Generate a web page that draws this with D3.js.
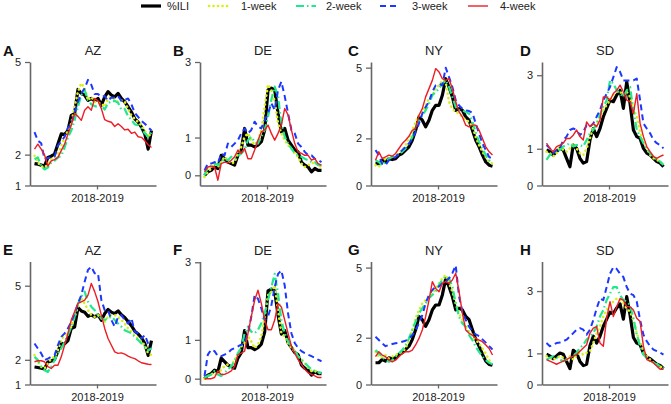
<!DOCTYPE html>
<html><head><meta charset="utf-8">
<script src="https://cdn.jsdelivr.net/npm/d3@7"></script>
<style>body{margin:0;background:#fff}svg{font-family:"Liberation Sans",Arial,sans-serif}</style>
</head><body><svg id="c" width="671" height="404"></svg>
<script>
const seriesNames = ["%ILI","1-week","2-week","3-week","4-week"];
const seasonLabel = "2018-2019";
const seasonTickWeek = 18.7;
const weekIndex = d3.range(36);
const panelLetters = ["A","B","C","D","E","F","G","H"];
const panelStates = ["AZ","DE","NY","SD","AZ","DE","NY","SD"];
const yTickValues = [[1,2,5],[0,1,3],[0,2,5],[0,1,3],[1,2,5],[0,1,3],[0,2,5],[0,1,3]];
const yDomains = [[1,5],[-0.27,3],[0,5.24],[0,3.36],[1,5.98],[-0.15,3.02],[0,5.26],[0,3.95]];

// observed %ILI
const ili_AZ = [1.71,1.69,1.66,1.63,1.91,1.95,2.02,2.34,2.67,2.65,2.78,3.27,3.33,4.11,3.98,3.93,3.76,3.82,3.74,3.82,3.60,3.87,4.04,3.93,3.87,3.98,3.82,3.71,3.55,3.38,3.16,3.05,2.89,2.67,2.18,2.78];
const ili_DE = [0,0.09,0.13,0.22,0.18,0.53,0.44,0.35,0.31,0.27,0.53,0.67,1.24,0.80,0.80,0.75,0.80,0.89,1.20,2.26,2.31,2.26,1.64,1.15,1.24,0.93,0.80,0.67,0.62,0.35,0.27,0.22,0.09,0.18,0.13,0.13];
const ili_NY = [0.93,0.93,1.07,1.00,1.14,1.10,1.14,1.29,1.36,1.50,1.64,1.92,2.34,2.91,2.77,2.49,2.77,3.19,3.40,3.40,3.83,4.53,4.18,3.76,3.19,3.26,3.19,2.91,2.77,2.34,1.92,1.64,1.29,1.00,0.86,0.82];
const ili_SD = [0.97,0.92,0.83,0.92,1.01,0.97,0.74,0.51,1.10,1.01,0.74,0.61,0.65,1.24,1.55,1.33,1.55,1.87,2.10,2.32,2.28,2.46,2.59,2.10,2.82,2.23,1.51,1.33,1.28,1.01,0.88,0.83,0.74,0.65,0.61,0.51];

// top row forecasts (A-D)
const A_w1 = [1.96,1.74,1.63,1.58,1.69,1.85,1.93,2.02,2.29,2.56,2.78,3.00,3.55,4.04,4.31,4.15,3.76,3.87,3.71,3.68,3.66,3.55,3.82,3.87,3.79,3.71,3.76,3.71,3.49,3.27,3.16,3.05,2.95,2.78,2.56,2.73];
const A_w2 = [1.85,1.91,1.63,1.52,1.58,1.74,1.80,1.91,1.96,2.23,2.56,2.78,3.11,3.55,3.93,4.09,3.76,3.63,3.57,3.55,3.60,3.46,3.66,3.73,3.74,3.68,3.46,3.48,3.24,3.13,2.98,2.95,2.84,2.69,2.58,2.73];
const A_w3 = [2.73,2.45,2.37,1.85,1.89,1.91,1.93,2.29,2.43,2.58,2.87,2.98,3.38,3.71,3.98,4.15,4.42,4.26,3.96,3.96,3.87,3.90,3.74,3.85,3.84,3.90,3.74,3.77,3.82,3.63,3.35,3.22,3.09,3.00,2.89,2.78];
const A_w4 = [2.18,2.34,2.18,1.99,1.63,1.80,1.84,1.91,2.13,2.34,2.67,2.95,3.33,3.24,3.11,3.44,3.55,3.44,3.82,3.74,3.49,3.13,3.08,3.05,2.91,3.00,2.91,2.80,2.82,2.69,2.73,2.58,2.56,2.45,2.32,2.23];

const B_w1 = [-0.04,0.09,0.18,0.31,0.22,0.35,0.49,0.40,0.31,0.35,0.58,0.75,1.02,1.11,0.93,0.80,0.89,1.20,1.82,2.40,2.26,1.95,1.38,1.11,0.93,0.80,0.71,0.58,0.49,0.31,0.22,0.27,0.31,0.35,0.27,0.22];
const B_w2 = [0,0.22,0.24,0.31,0.27,0.35,0.44,0.40,0.49,0.44,0.51,0.58,0.67,0.93,1.02,0.89,0.84,1.02,1.20,1.55,2.00,2.35,2.09,1.38,1.02,0.84,0.71,0.58,0.53,0.49,0.44,0.40,0.35,0.35,0.27,0.27];
const B_w3 = [0.13,0.31,0.31,0.35,0.31,0.58,0.53,0.84,0.75,0.84,0.93,1.11,1.24,1.11,1.20,1.42,1.29,1.24,1.46,1.64,1.91,1.73,2.26,2.48,2.09,1.64,1.20,1.11,0.84,0.75,0.62,0.53,0.53,0.44,0.40,0.35];
const B_w4 = [0.09,0.22,0.24,0.22,-0.13,0.31,0.35,0.33,0.40,0.49,0.67,0.58,0.71,0.44,0.44,0.67,0.93,1.15,1.20,1.33,1.11,0.93,1.11,1.33,1.77,1.60,1.20,0.84,0.62,0.58,0.53,0.53,0.40,0.44,0.31,0.27];

const C_w1 = [0.86,0.79,1.00,1.14,1.14,1.21,1.29,1.36,1.50,1.71,1.99,2.34,2.70,2.98,3.12,3.40,3.69,3.83,4.11,4.25,4.46,4.39,3.55,3.26,3.12,3.05,2.91,2.77,2.70,2.49,2.06,1.71,1.43,1.21,1.00,0.93];
const C_w2 = [1.07,1.00,0.86,1.00,1.14,1.21,1.24,1.33,1.43,1.57,1.78,2.06,2.49,2.77,2.98,3.19,3.47,3.83,3.97,4.11,4.32,4.46,4.18,3.76,3.33,3.19,3.19,3.12,3.05,2.70,2.27,1.85,1.57,1.29,1.07,1.00];
const C_w3 = [1.50,1.29,0.93,0.86,1.07,1.14,1.21,1.36,1.50,1.64,1.78,1.99,2.27,2.63,3.05,3.33,3.55,3.97,4.25,4.32,4.25,5.00,4.60,4.18,3.62,3.40,3.26,3.19,3.16,3.08,2.63,2.20,1.78,1.50,1.21,1.14];
const C_w4 = [1.07,1.43,1.14,1.21,1.29,1.24,1.36,1.57,1.78,1.92,2.09,2.34,2.42,2.98,3.26,3.76,4.11,4.46,4.96,4.82,4.53,4.46,4.53,4.11,3.55,3.12,2.91,2.56,2.49,2.56,2.56,2.34,1.99,1.64,1.43,1.29];

const D_w1 = [0.92,0.88,0.79,0.88,1.10,0.97,0.92,1.01,1.15,1.01,0.88,0.83,1.01,1.28,1.60,1.69,1.87,2.05,2.19,2.32,2.46,2.55,2.55,2.46,2.55,2.41,2.10,1.87,1.46,1.19,1.01,0.83,0.74,0.70,0.65,0.56];
const D_w2 = [0.70,0.83,0.88,0.92,0.97,1.06,1.10,1.15,1.06,1.10,1.10,1.06,1.24,1.42,1.51,1.69,1.92,2.14,2.32,2.86,2.77,2.59,2.50,2.41,2.59,2.68,2.05,1.51,1.33,1.15,1.01,0.88,0.79,0.70,0.65,0.56];
const D_w3 = [1.10,1.01,0.88,0.97,1.01,1.24,1.33,1.51,1.55,1.51,1.37,1.46,1.64,1.60,1.69,1.87,2.05,2.32,2.50,2.68,2.95,3.22,3.09,2.86,2.86,2.86,2.86,2.91,2.32,1.69,1.55,1.42,1.24,1.15,1.10,1.01];
const D_w4 = [1.15,1.01,0.92,1.06,1.10,1.15,1.28,1.28,1.37,1.51,1.33,1.24,1.73,1.60,1.69,1.60,1.78,2.41,2.41,2.32,2.50,2.59,2.73,2.55,2.32,2.28,1.96,2.50,1.69,1.33,1.06,0.92,0.79,0.74,0.79,0.83];

// bottom row forecasts (E-H)
const E_w1 = [2.19,1.92,1.72,1.65,1.85,2.05,2.12,2.39,2.80,3.00,3.07,3.34,3.74,4.15,4.49,4.28,4.01,3.81,3.74,3.81,3.68,3.54,3.74,3.81,3.81,3.74,3.61,3.47,3.27,3.14,3.00,2.86,2.73,2.59,2.26,2.19];
const E_w2 = [2.12,1.99,1.72,1.58,1.51,1.72,1.99,2.26,2.46,2.73,3.00,3.34,3.74,4.28,4.55,4.76,4.35,4.15,4.01,3.81,3.68,3.61,3.68,3.74,3.61,3.47,3.34,3.20,3.14,3.07,2.93,2.80,2.66,2.53,2.39,2.46];
const E_w3 = [2.66,2.46,2.26,1.99,2.05,2.12,2.19,2.59,2.93,3.07,3.27,3.54,3.88,4.28,4.62,5.16,5.64,5.77,5.50,5.50,4.42,4.01,4.01,3.61,3.34,3.74,3.81,3.61,3.47,3.68,3.14,3.07,2.86,3.00,2.66,2.53];
const E_w4 = [1.92,1.96,1.96,1.92,1.72,1.65,1.78,1.78,2.12,2.59,3.07,3.61,3.95,4.28,4.35,4.42,4.62,5.09,4.76,4.35,3.81,3.27,2.86,2.59,2.32,2.26,2.28,2.23,2.15,2.09,2.05,1.96,1.88,1.85,1.82,1.81];

const F_w1 = [0,0.07,0.11,0.15,0.07,0.24,0.32,0.37,0.32,0.49,0.62,0.83,0.92,1.09,0.96,0.79,0.88,1.09,1.60,2.15,2.23,2.40,1.77,1.17,1.09,0.92,0.79,0.71,0.58,0.49,0.41,0.28,0.20,0.20,0.15,0.14];
const F_w2 = [0.03,0.07,0.11,0.20,0.11,0.07,0.15,0.24,0.32,0.45,0.66,0.79,1.17,1.34,1.21,1.17,1.26,1.43,1.68,2.02,2.36,2.70,2.19,1.51,1.17,0.96,0.83,0.71,0.58,0.49,0.41,0.32,0.24,0.20,0.17,0.15];
const F_w3 = [0.07,0.62,0.75,0.71,0.58,0.58,0.62,0.66,0.75,0.79,0.83,0.88,0.92,1.17,1.60,2.15,2.06,1.81,1.51,1.60,1.89,2.36,2.70,2.79,2.40,1.68,1.17,0.92,0.79,0.71,0.66,0.62,0.58,0.54,0.49,0.45];
const F_w4 = [0,0,0,0.03,0.20,0.11,0.11,0.15,0.20,0.32,0.62,0.66,0.71,1.17,1.60,2.02,2.28,1.94,1.51,1.26,1.26,1.51,1.94,1.85,1.51,1.17,0.83,0.66,0.49,0.37,0.24,0.15,0.11,0.07,0.03,0.03];

const G_w1 = [1.40,1.19,1.16,1.26,1.11,1.19,1.26,1.33,1.40,1.54,1.90,2.33,2.83,3.19,3.47,3.61,3.76,3.90,4.11,4.33,4.54,4.69,4.33,3.97,3.47,3.04,2.76,2.47,2.26,2.11,1.90,1.76,1.54,1.33,1.04,0.90];
const G_w2 = [1.47,1.33,1.19,1.04,0.97,1.04,1.19,1.33,1.47,1.69,1.97,2.33,2.69,3.04,3.26,3.47,3.69,3.83,3.97,4.26,4.47,4.61,4.54,4.19,3.47,2.90,2.61,2.47,2.11,1.90,1.61,1.40,1.19,1.04,0.93,0.87];
const G_w3 = [2.04,1.90,1.76,1.64,1.69,1.73,1.76,1.79,1.83,1.87,1.97,2.11,2.33,2.61,2.97,3.47,3.83,4.04,4.19,4.19,4.33,4.40,4.54,4.76,5.09,3.76,3.11,2.76,2.47,2.26,2.14,2.07,1.93,1.79,1.64,1.50];
const G_w4 = [1.19,1.40,1.26,1.19,1.04,0.97,1.04,1.19,1.33,1.40,1.40,1.47,1.69,1.97,2.33,2.90,3.61,4.40,4.11,3.97,4.33,4.40,4.33,4.47,4.76,3.97,3.04,2.33,2.19,2.11,1.97,1.90,1.83,1.69,1.54,1.26];

const H_w1 = [0.91,0.86,0.80,0.86,0.91,0.86,0.80,0.91,0.80,0.96,1.02,0.96,1.02,1.07,1.33,1.65,1.86,2.18,2.39,2.55,2.66,2.76,2.71,2.60,2.44,2.34,2.07,1.65,1.33,1.07,0.91,0.80,0.70,0.65,0.59,0.49];
const H_w2 = [0.80,0.86,0.91,0.86,0.80,0.75,0.80,0.86,0.91,1.02,1.17,1.28,1.44,1.54,1.65,1.86,2.18,2.39,2.71,2.92,3.13,3.13,2.87,2.71,2.66,2.55,2.13,1.60,1.23,0.96,0.86,0.75,0.70,0.65,0.59,0.51];
const H_w3 = [1.33,1.23,1.28,1.33,1.35,1.39,1.44,1.54,1.65,1.76,1.81,1.76,1.60,1.76,2.07,2.44,2.76,2.71,3.13,3.56,3.77,3.71,3.56,3.45,3.13,2.92,2.87,2.66,2.07,1.60,1.39,1.23,1.12,1.07,1.02,0.96];
const H_w4 = [0.80,0.75,0.70,0.65,0.70,0.75,0.80,0.86,0.91,0.96,1.07,1.17,1.28,1.65,1.81,1.86,1.33,1.23,2.13,2.66,2.18,2.50,2.76,2.71,2.50,2.50,2.39,2.13,2.02,1.23,0.80,0.75,0.70,0.59,0.49,0.49];

const panelSeries = [
  [ili_AZ, A_w1, A_w2, A_w3, A_w4],
  [ili_DE, B_w1, B_w2, B_w3, B_w4],
  [ili_NY, C_w1, C_w2, C_w3, C_w4],
  [ili_SD, D_w1, D_w2, D_w3, D_w4],
  [ili_AZ, E_w1, E_w2, E_w3, E_w4],
  [ili_DE, F_w1, F_w2, F_w3, F_w4],
  [ili_NY, G_w1, G_w2, G_w3, G_w4],
  [ili_SD, H_w1, H_w2, H_w3, H_w4]
];

// styles
const styles = [
  {color:"#000000", width:3.2, dash:null, cap:"butt"},
  {color:"#d8f01a", width:2.6, dash:"0.1 4.4", cap:"round"},
  {color:"#22e88c", width:2.2, dash:"8 3 1.5 3", cap:"butt"},
  {color:"#1c38ff", width:2.0, dash:"6 4", cap:"butt"},
  {color:"#ee1c25", width:1.4, dash:null, cap:"butt"}
];

const svg = d3.select("#c");
const colX = [30, 200, 371, 542];
const letterX = [3, 173, 348, 520];
const rowY = [[62, 185.5], [261.5, 384.5]];
const plotW = 126;
const axisColor = "#666";

panelSeries.forEach((series, p) => {
  const col = p % 4, row = Math.floor(p / 4);
  const x0 = colX[col], [yT, yB] = rowY[row];
  const x = d3.scaleLinear().domain([-1.35, 36.35]).range([x0, x0 + plotW]);
  const y = d3.scaleLinear().domain(yDomains[p]).range([yB, yT]);

  const ya = svg.append("g").attr("transform", `translate(${x0},0)`)
    .call(d3.axisLeft(y).tickValues(yTickValues[p]).tickFormat(d3.format("d")).tickSize(5).tickSizeOuter(0).tickPadding(4));
  const xa = svg.append("g").attr("transform", `translate(0,${yB})`)
    .call(d3.axisBottom(x).tickValues([seasonTickWeek]).tickFormat(() => seasonLabel).tickSize(4).tickSizeOuter(0).tickPadding(5));
  [ya, xa].forEach(g => {
    g.select(".domain").attr("stroke", axisColor).attr("stroke-width", 1.6);
    g.selectAll(".tick line").attr("stroke", axisColor).attr("stroke-width", 1.3);
    g.selectAll(".tick text").attr("fill", "#222").style("font-size", "11px").style("font-family", '"Liberation Sans",Arial,sans-serif');
  });

  const line = d3.line().x((d, i) => x(weekIndex[i])).y(d => y(d));
  series.forEach((vals, s) => {
    const st = styles[s];
    svg.append("path").datum(vals).attr("d", line)
      .attr("fill", "none").attr("stroke", st.color).attr("stroke-width", st.width)
      .attr("stroke-dasharray", st.dash).attr("stroke-linecap", st.cap).attr("stroke-linejoin", "round");
  });

  svg.append("text").attr("x", x0 + plotW / 2).attr("y", yT - 7)
    .attr("text-anchor", "middle").attr("fill", "#222").style("font-size", "13px").text(panelStates[p]);
  svg.append("text").attr("x", letterX[col]).attr("y", yT - 6.5)
    .attr("fill", "#111").style("font-size", "15px").style("font-weight", "bold").text(panelLetters[p]);
});

// legend
const legX = [141, 209, 296, 380, 468];
const legTextX = [167, 241, 326, 412, 500];
seriesNames.forEach((name, s) => {
  const st = styles[s];
  svg.append("line").attr("x1", legX[s]).attr("x2", legX[s] + 20).attr("y1", 6).attr("y2", 6)
    .attr("stroke", st.color).attr("stroke-width", st.width).attr("stroke-dasharray", st.dash).attr("stroke-linecap", st.cap);
  svg.append("text").attr("x", legTextX[s]).attr("y", 6).attr("dy", "0.35em")
    .attr("fill", "#222").style("font-size", "11px").text(name);
});
</script>
</body></html>
